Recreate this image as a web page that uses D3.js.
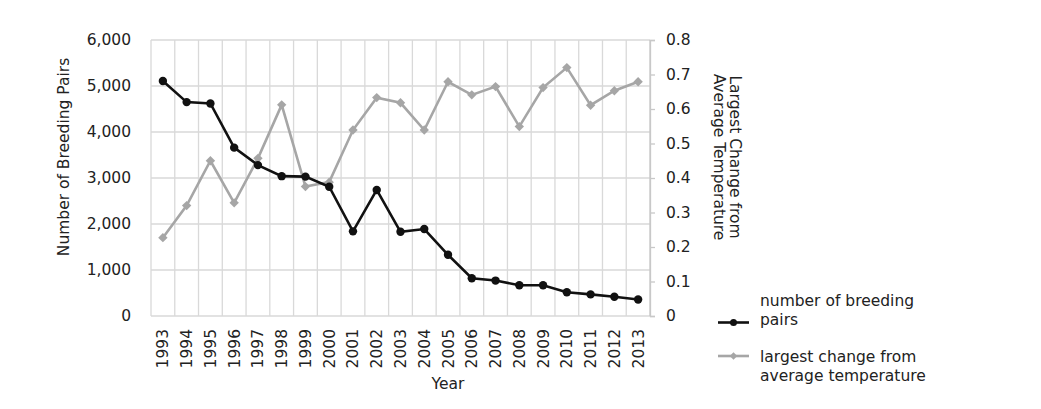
<!DOCTYPE html>
<html><head><meta charset="utf-8">
<script src="https://cdn.jsdelivr.net/npm/d3@7"></script>
<style>
body{margin:0;background:#fff;}
svg text{font-family:"DejaVu Sans",Verdana,sans-serif;fill:#222;}
</style></head>
<body><svg id="c" width="1041" height="409"></svg>
<script>
const years = ["1993","1994","1995","1996","1997","1998","1999","2000","2001","2002","2003","2004","2005","2006","2007","2008","2009","2010","2011","2012","2013"];
const breedingPairs = [5110,4650,4620,3660,3280,3040,3030,2810,1840,2740,1830,1890,1330,820,770,670,670,515,470,420,360];
const tempChange = [0.227,0.320,0.450,0.328,0.457,0.612,0.375,0.388,0.539,0.633,0.618,0.539,0.679,0.641,0.665,0.549,0.662,0.720,0.611,0.653,0.679];
const leftTicks = [0,1000,2000,3000,4000,5000,6000];
const rightTicks = [0,0.1,0.2,0.3,0.4,0.5,0.6,0.7,0.8];
const seriesNames = [["number of breeding","pairs"],["largest change from","average temperature"]];

const svg = d3.select("#c");
const L = 151, R = 650, T = 40, B = 316;
const x = d3.scaleBand().domain(years).range([L, R]);
const yL = d3.scaleLinear().domain([0,6000]).range([B, T]);
const yR = d3.scaleLinear().domain([0,0.8]).range([B, T]);
const grid = "#d9d9d9";
const fs = 15.5;

// horizontal grid
svg.append("g").selectAll("line").data(leftTicks).join("line")
  .attr("x1", L).attr("x2", R).attr("y1", d=>yL(d)).attr("y2", d=>yL(d))
  .attr("stroke", grid).attr("stroke-width",1.3);
// vertical grid (category boundaries)
svg.append("g").selectAll("line").data(years).join("line")
  .attr("x1", d=>x(d)).attr("x2", d=>x(d)).attr("y1", T).attr("y2", B)
  .attr("stroke", grid).attr("stroke-width",1.3);
svg.append("line").attr("x1",R).attr("x2",R).attr("y1",T).attr("y2",B).attr("stroke","#c8c8c8").attr("stroke-width",1.3);

// left axis
const la = svg.append("g").attr("transform",`translate(${L},0)`)
  .call(d3.axisLeft(yL).tickValues(leftTicks).tickFormat(d3.format(",")).tickSize(0).tickPadding(20));
la.select(".domain").remove();
la.selectAll("text").style("font-size",fs+"px").attr("fill","#222");

// right axis
const ra = svg.append("g").attr("transform",`translate(${R},0)`)
  .call(d3.axisRight(yR).tickValues(rightTicks).tickFormat(d=>d===0?"0":d3.format(".1f")(d)).tickSize(5).tickPadding(11));
ra.select(".domain").attr("stroke","#c8c8c8").attr("stroke-width",1.3);
ra.selectAll("line").attr("stroke","#c8c8c8").attr("stroke-width",1.3);
ra.selectAll("text").style("font-size",fs+"px").attr("fill","#222");

// x axis labels
const xa = svg.append("g").attr("transform",`translate(0,${B})`)
  .call(d3.axisBottom(x).tickSize(0).tickPadding(0));
xa.select(".domain").remove();
xa.selectAll("text").style("font-size",fs+"px").attr("fill","#222")
  .attr("text-anchor","end").attr("dy",null)
  .attr("transform","translate(5.5,13) rotate(-90)");

// titles
svg.append("text").attr("transform","translate(69,157) rotate(-90)").attr("text-anchor","middle").style("font-size",fs+"px").text("Number of Breeding Pairs");
svg.append("text").attr("x",448).attr("y",389).attr("text-anchor","middle").style("font-size",fs+"px").text("Year");
const rt = svg.append("text").attr("transform","translate(730,157) rotate(90)").attr("text-anchor","middle").style("font-size",fs+"px");
rt.append("tspan").attr("x",0).attr("dy",0).text("Largest Change from");
rt.append("tspan").attr("x",0).attr("dy",16.5).text("Average Temperature");

// lines
const cx = d=>x(d)+x.bandwidth()/2;
svg.append("path").datum(years.map((d,i)=>[cx(d),yR(tempChange[i])]))
  .attr("d",d3.line()).attr("fill","none").attr("stroke","#a6a6a6").attr("stroke-width",2.6);
svg.append("g").selectAll("path").data(years).join("path")
  .attr("d",d3.symbol(d3.symbolSquare,44)).attr("transform",(d,i)=>`translate(${cx(d)},${yR(tempChange[i])}) rotate(45)`)
  .attr("fill","#a6a6a6");
svg.append("path").datum(years.map((d,i)=>[cx(d),yL(breedingPairs[i])]))
  .attr("d",d3.line()).attr("fill","none").attr("stroke","#111").attr("stroke-width",2.6);
svg.append("g").selectAll("circle").data(years).join("circle")
  .attr("cx",d=>cx(d)).attr("cy",(d,i)=>yL(breedingPairs[i])).attr("r",4.2).attr("fill","#111");

// legend
const lg = svg.append("g");
lg.append("line").attr("x1",718).attr("x2",749).attr("y1",322.5).attr("y2",322.5).attr("stroke","#111").attr("stroke-width",2.6);
lg.append("circle").attr("cx",733.5).attr("cy",322.5).attr("r",3.5).attr("fill","#111");
lg.append("line").attr("x1",718).attr("x2",749).attr("y1",356).attr("y2",356).attr("stroke","#a6a6a6").attr("stroke-width",2.6);
lg.append("path").attr("d",d3.symbol(d3.symbolSquare,28)).attr("transform","translate(733.5,356) rotate(45)").attr("fill","#a6a6a6");
seriesNames.forEach((lines,k)=>{
  const t = lg.append("text").attr("x",760).attr("y",[306,362][k]).style("font-size",fs+"px");
  lines.forEach((s,j)=>t.append("tspan").attr("x",760).attr("dy",j?19:0).text(s));
});
</script></body></html>
